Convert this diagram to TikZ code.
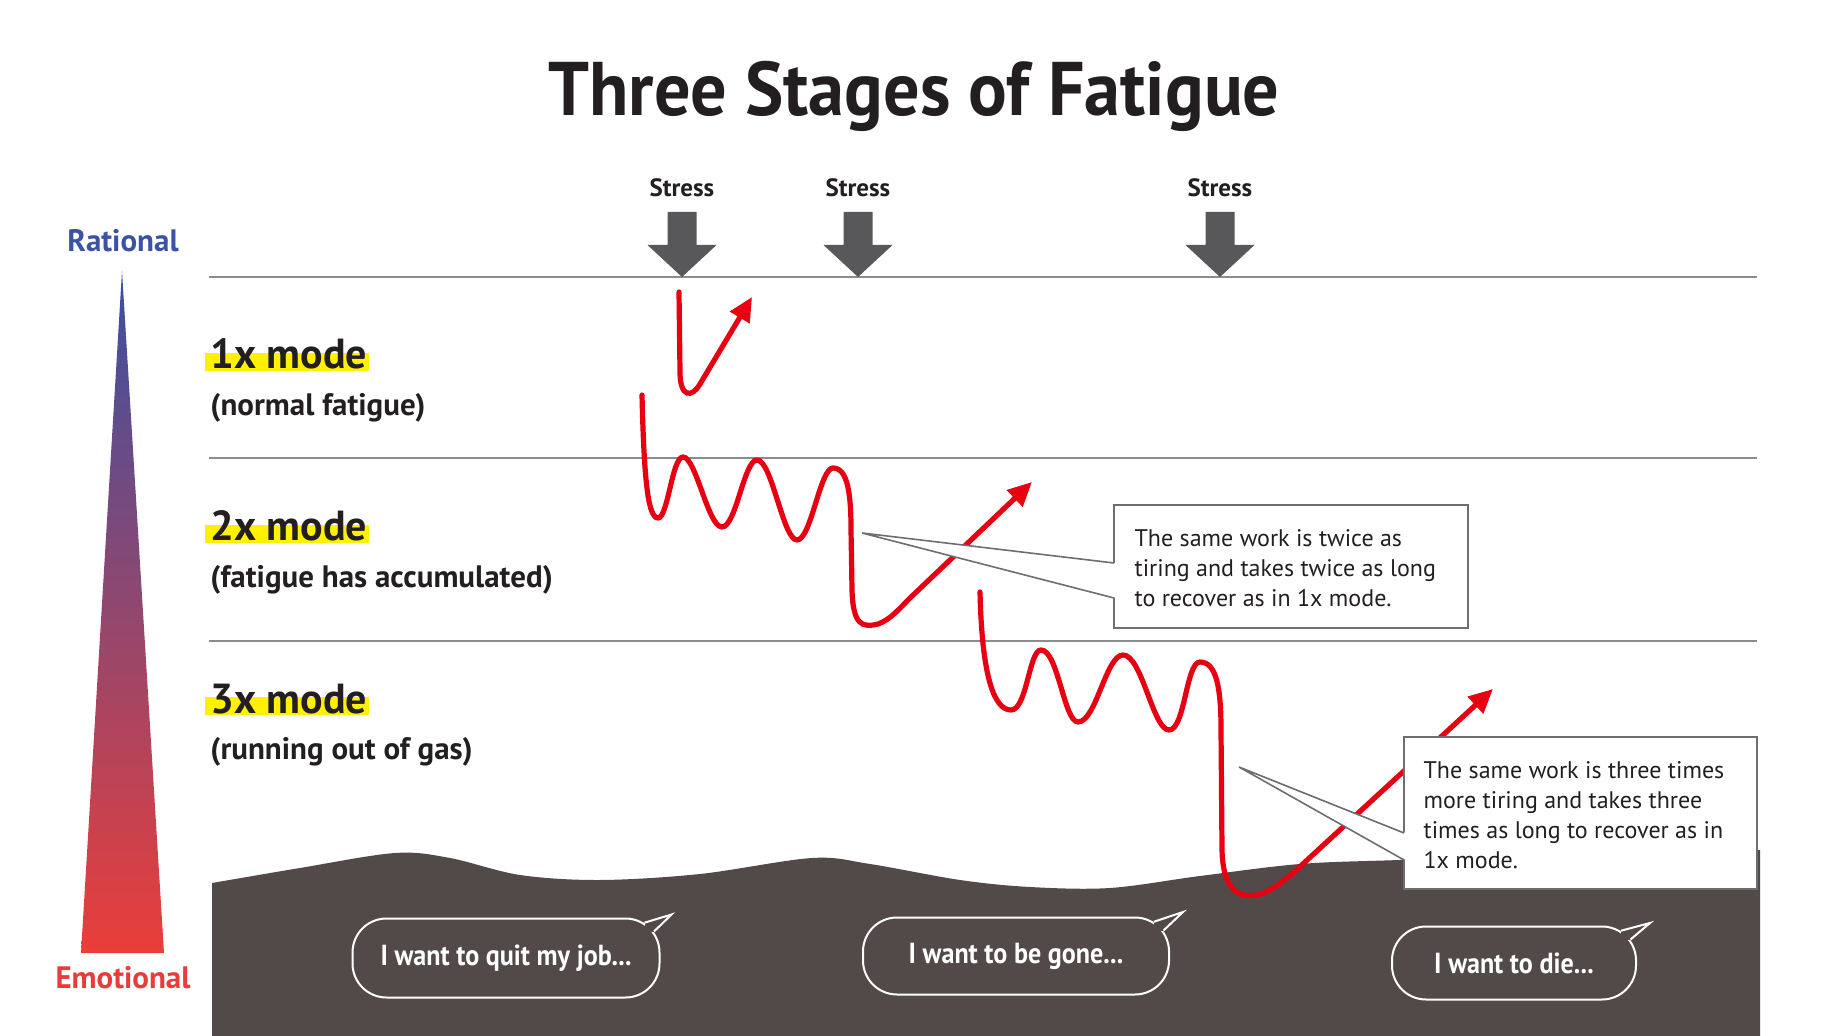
\documentclass[tikz,border=0pt]{standalone}
\usepackage{fontspec}
\setmainfont{PT Sans}
\newfontfamily\narrowfont[FakeStretch=0.9]{PT Sans}
\newfontfamily\titlefont[FakeStretch=0.95]{PT Sans}
\usetikzlibrary{arrows.meta,calc}

\definecolor{inkdark}{RGB}{35,31,32}
\definecolor{arrowgray}{RGB}{88,88,90}
\definecolor{rulegray}{RGB}{140,140,140}
\definecolor{boxgray}{RGB}{110,110,112}
\definecolor{fatiguered}{RGB}{230,0,18}
\definecolor{groundbrown}{RGB}{82,74,72}
\definecolor{markyellow}{RGB}{255,241,0}
\definecolor{rationalblue}{RGB}{58,83,164}
\definecolor{emotionalred}{RGB}{230,60,60}
\definecolor{tritop}{RGB}{58,80,162}
\definecolor{tribottom}{RGB}{234,62,58}

\tikzset{
  ruleline/.style={draw=rulegray,line width=0.6pt},
  redline/.style={draw=fatiguered,line width=2.6pt,line cap=round,-{Triangle[length=12pt,width=11pt]}},
  stressshape/.style={fill=arrowgray},
  stresstxt/.style={anchor=base,inner sep=0pt,font=\bfseries\fontsize{12.5}{15}\selectfont,text=inkdark},
  titletxt/.style={anchor=base,inner sep=0pt,font=\titlefont\bfseries\fontsize{38}{44}\selectfont,text=inkdark},
  sidetxt/.style={anchor=base,inner sep=0pt,font=\bfseries\fontsize{15.5}{18}\selectfont},
  modetxt/.style={anchor=base west,inner sep=0pt,font=\bfseries\fontsize{21}{25}\selectfont,text=inkdark},
  subtxt/.style={anchor=base west,inner sep=0pt,font=\bfseries\fontsize{15.5}{18}\selectfont,text=inkdark},
  hilite/.style={fill=markyellow},
  ground/.style={fill=groundbrown},
  notebox/.style={draw=boxgray,line width=0.8pt,fill=white,inner sep=0pt},
  noteline/.style={draw=boxgray,line width=0.8pt},
  notetxt/.style={anchor=west,align=left,inner sep=0pt,font=\fontsize{12}{15}\selectfont,text=inkdark},
  bubbletxt/.style={inner sep=0pt,draw=white,line width=1pt,rounded corners=17pt,text=white,font=\narrowfont\bfseries\fontsize{14.5}{17}\selectfont},
  bubbleline/.style={draw=white,line width=1pt},
}

\begin{document}
\begin{tikzpicture}[x=0.5pt,y=0.5pt,yscale=-1,xscale=1]
    \useasboundingbox (0,0) rectangle (1840,1036);

    % Text Node
    \node[titletxt] (title) at (914,116) {Three Stages of Fatigue};

    %Shape: Ground
    \fill[ground] (212,1036) -- plot[smooth,tension=0.55] coordinates {(212,883) (300,868) (395,853) (450,858) (520,875) (600,880) (700,874) (812,858) (870,864) (960,880) (1030,887) (1110,888) (1200,876) (1300,864) (1400,860) (1560,855) (1760,850)} -- (1760,1036) -- cycle;

    %Shape: Lines
    \draw[ruleline] (209,277) -- (1757,277);
    \draw[ruleline] (209,458) -- (1757,458);
    \draw[ruleline] (209,641) -- (1757,641);

    %Shape: Stress arrows
    \foreach \sx [count=\i] in {682,858,1220}{
      \node[stresstxt] (stress\i) at (\sx,197) {Stress};
      \fill[stressshape] (\sx-14.5,212) -- (\sx+14.5,212) -- (\sx+14.5,245) -- (\sx+34.5,245) -- (\sx,277) -- (\sx-34.5,245) -- (\sx-14.5,245) -- cycle;
    }

    %Shape: Triangle
    \shade[top color=tritop,bottom color=tribottom] (122,271) -- (164,953) -- (81,953) -- cycle;
    % Text Node
    \node[sidetxt,text=rationalblue] (rational) at (123,252) {Rational};
    % Text Node
    \node[sidetxt,text=emotionalred] (emotional) at (123,988) {Emotional};

    % Text Node
    \foreach \ly/\lab/\sub [count=\j] in {369/1x mode/(normal fatigue),541/2x mode/(fatigue has accumulated),713/3x mode/(running out of gas)}{
      \fill[hilite] (205,\ly-16) rectangle (369,\ly+2);
      \node[modetxt] (mode\j) at (210,\ly) {\lab};
      \node[subtxt] (sub\j) at (210,\ly+46.5) {\sub};
    }

    %Shape: Curves
    \draw[redline] (679,292) -- (680,372) .. controls (680,398) and (692,398) .. (700,384) -- (752,297);
    \draw[redline] (642,395) .. controls (644,480) and (648,518) .. (658,518)
      .. controls (668,518) and (672,457) .. (683,457)
      .. controls (696,457) and (708,527) .. (722,527)
      .. controls (736,527) and (744,460) .. (757,460)
      .. controls (772,460) and (783,540) .. (797,540)
      .. controls (811,540) and (820,468) .. (833,468)
      .. controls (848,468) and (851,495) .. (851,530)
      -- (852,590)
      .. controls (853,625) and (862,628) .. (878,624)
      .. controls (890,620) and (900,608) .. (910,598)
      -- (1032,482);
    \draw[redline] (980,592) .. controls (982,680) and (995,710) .. (1011,710)
      .. controls (1027,710) and (1029,650) .. (1041,650)
      .. controls (1058,650) and (1064,722) .. (1078,722)
      .. controls (1096,722) and (1106,655) .. (1123,655)
      .. controls (1142,655) and (1153,730) .. (1169,730)
      .. controls (1185,730) and (1186,662) .. (1200,662)
      .. controls (1217,662) and (1221,690) .. (1221,730)
      -- (1222,850)
      .. controls (1223,890) and (1238,898) .. (1257,895)
      .. controls (1272,892) and (1290,876) .. (1305,862)
      -- (1493,689);

    %Shape: Callouts
    \node[notebox,minimum width=177pt,minimum height=61.5pt] (note1) at (1291,566.5) {};
    \coordinate (tip1) at (862,533);
    \coordinate (n1a) at (1114,563);
    \coordinate (n1b) at (1114,598);
    \fill[white] (tip1) -- ($(n1a)+(2,0)$) -- ($(n1b)+(2,0)$) -- cycle;
    \draw[noteline] (n1a) -- (tip1) -- (n1b);
    % Text Node
    \node[notetxt] (note1txt) at ($(note1.west)+(21,2)$) {The same work is twice as\\tiring and takes twice as long\\to recover as in 1x mode.};

    \node[notebox,minimum width=176.5pt,minimum height=76pt] (note2) at (1580.5,813) {};
    \coordinate (tip2) at (1239,767);
    \coordinate (n2a) at (1404,833);
    \coordinate (n2b) at (1404,860);
    \fill[white] (tip2) -- ($(n2a)+(2,0)$) -- ($(n2b)+(2,0)$) -- cycle;
    \draw[noteline] (n2a) -- (tip2) -- (n2b);
    % Text Node
    \node[notetxt] (note2txt) at ($(note2.west)+(20,2)$) {The same work is three times\\more tiring and takes three\\times as long to recover as in\\1x mode.};

    %Shape: Speech bubbles
    \node[bubbletxt,minimum width=153.5pt,minimum height=39.5pt] (quit) at (506,958) {I want to quit my job...};
    \node[bubbletxt,minimum width=153pt,minimum height=38.5pt] (gone) at (1016,956) {I want to be gone...};
    \node[bubbletxt,minimum width=122pt,minimum height=36.5pt] (die) at (1514,963) {I want to die...};
    \foreach \bname/\tx/\ty in {quit/11/-3,gone/13/-4.5,die/13/-2.5}{
      \coordinate (\bname tip) at ($(\bname.north east)+(\tx,\ty)$);
      \coordinate (\bname a) at ($(\bname.north east)+(-16,5.2)$);
      \coordinate (\bname b) at ($(\bname.north east)+(-6.5,14)$);
      \fill[ground] ($(\bname.north east)+(-16,-4)$) rectangle ($(\bname.north east)+(4,14)$);
      \draw[bubbleline] (\bname a) -- (\bname tip) -- (\bname b);
    }
\end{tikzpicture}
\end{document}
